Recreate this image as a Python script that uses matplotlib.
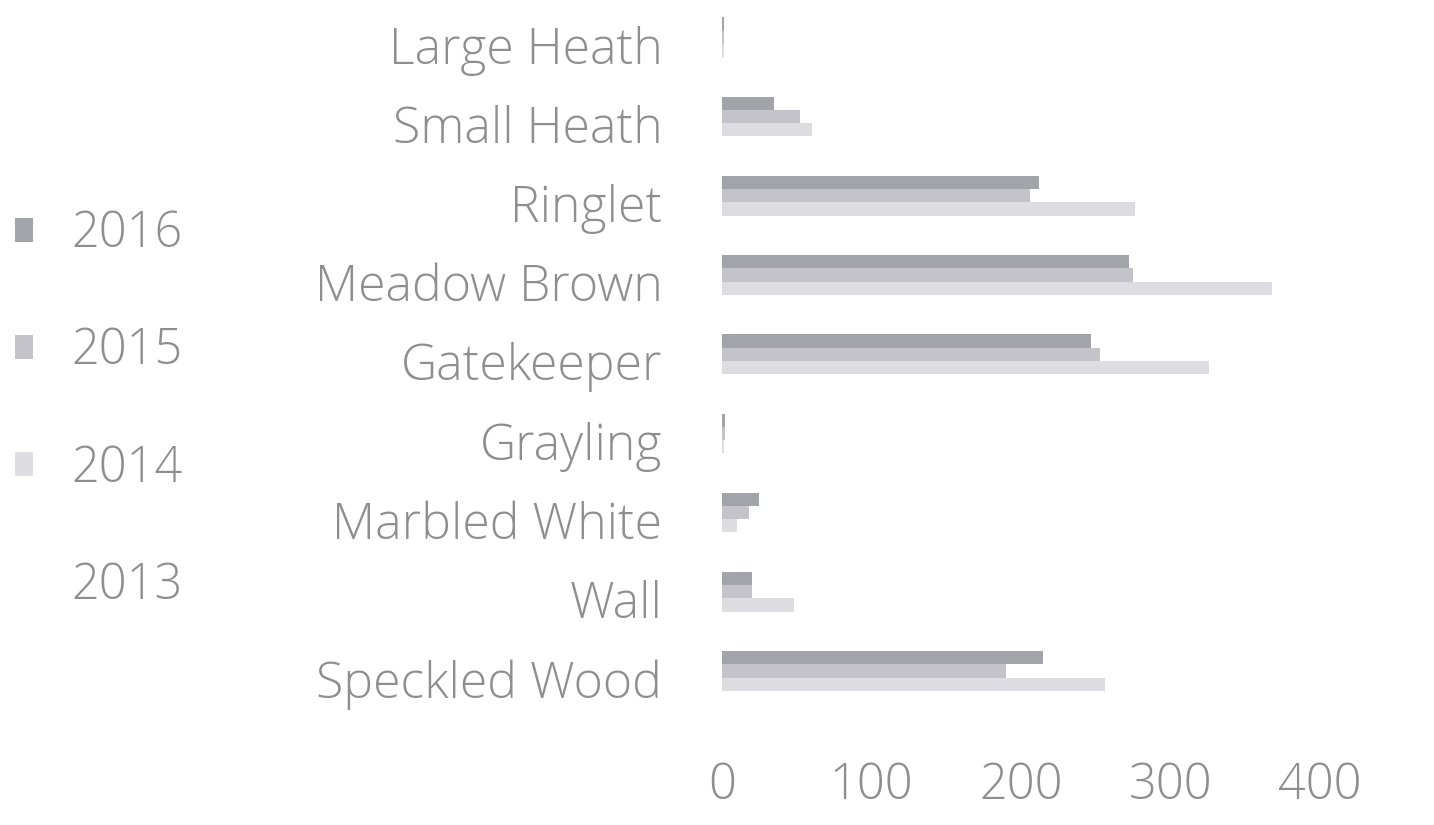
import matplotlib
matplotlib.use('Agg')
import matplotlib.pyplot as plt
import numpy as np

categories = ['Large Heath', 'Small Heath', 'Ringlet', 'Meadow Brown', 'Gatekeeper',
              'Grayling', 'Marbled White', 'Wall', 'Speckled Wood']
years = ['2016', '2015', '2014', '2013']
v2016 = [1, 35, 212, 272, 247, 2, 25, 20, 215]
v2015 = [1, 52, 206, 275, 253, 2, 18, 20, 190]
v2014 = [1, 60, 276, 368, 326, 1, 10, 48, 256]
v2013 = [1, 40, 240, 300, 280, 2, 20, 30, 230]
colors = ['#a3a3aa', '#c3c3c9', '#dddde1', '#ffffff']

plt.rcParams['font.family'] = ['Open Sans', 'DejaVu Sans']
text_color = '#8e8e8e'

fig = plt.figure(figsize=(14.34, 8.25), dpi=100)
ax = fig.add_axes([0.5035, 0.1297, 0.417, 0.8643])

y = np.arange(len(categories))
h = 0.167
series = [v2016, v2015, v2014, v2013]
handles = []
for i, (vals, c) in enumerate(zip(series, colors)):
    offs = (i - 1.55) * h
    b = ax.barh(y + offs, vals, height=h, color=c, label=years[i])
    handles.append(b)

ax.set_ylim(len(categories) - 0.5, -0.5)
ax.set_xlim(0, 400)
ax.set_xticks([0, 100, 200, 300, 400])
ax.set_yticks(y)
ax.set_yticklabels(categories)
for s in ax.spines.values():
    s.set_visible(False)
ax.tick_params(axis='both', length=0, labelsize=36, colors=text_color)
ax.tick_params(axis='x', labelsize=35, pad=31)
ax.tick_params(axis='y', pad=43)
for t in ax.get_xticklabels() + ax.get_yticklabels():
    t.set_fontweight('light')

leg = fig.legend(handles=handles, labels=years, loc='center left',
                 bbox_to_anchor=(0.004, 0.503), frameon=False, fontsize=35,
                 handlelength=0.36, handleheight=0.36, handletextpad=0.8,
                 labelspacing=1.38, labelcolor=text_color, borderaxespad=0.0,
                 borderpad=0.2)
for t in leg.get_texts():
    t.set_fontweight('light')

plt.savefig('out.png', dpi=100)
plt.close()
